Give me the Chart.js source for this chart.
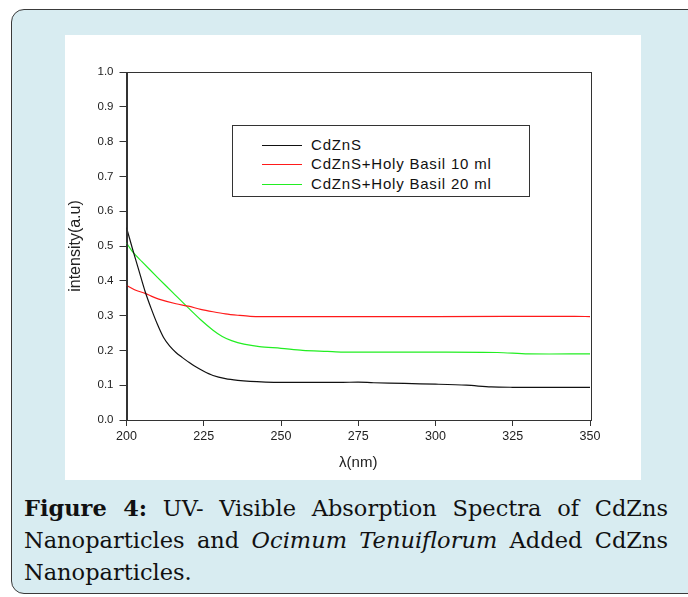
<!DOCTYPE html>
<html>
<head>
<meta charset="utf-8">
<script src="https://cdn.jsdelivr.net/npm/chart.js@4/dist/chart.umd.min.js"></script>
<style>
  html, body { margin:0; padding:0; background:#ffffff; }
  body { width:688px; height:597px; position:relative; overflow:hidden; }
  #frame { position:absolute; left:11px; top:9px; width:700px; height:585px;
           background:#d8ecf1; border:1.5px solid #3a3a3a; border-radius:13px; box-sizing:border-box; }
  #panel { position:absolute; left:65px; top:35px; width:576px; height:445px; background:#ffffff; }
  #panel canvas { position:absolute; left:0; top:0; }
  #legend { position:absolute; left:232px; top:125px; width:298px; height:72px; box-sizing:border-box;
            border:1.3px solid #333; background:#fff; font-family:"Liberation Sans", Arial, sans-serif; font-size:15px; color:#111; }
  .li { position:absolute; left:0; height:16px; width:100%; }
  .li .sw { position:absolute; left:29px; top:8px; width:40px; height:1px; }
  .li .tx { position:absolute; left:78px; top:-1px; line-height:18px; white-space:nowrap; letter-spacing:0.8px; }
  #caption { position:absolute; left:24px; top:492px; width:644px; font-family:"DejaVu Serif", serif;
             font-size:22.5px; line-height:32px; color:#111; }
  #caption .ln { text-align:justify; text-align-last:justify; white-space:nowrap; }
  #caption .ln.last { text-align-last:left; }
</style>
</head>
<body>
<div id="frame"></div>
<div id="panel"><canvas id="c" width="576" height="445"></canvas></div>
<div id="legend"></div>
<div id="caption">
  <div class="ln"><b>Figure 4:</b> UV- Visible Absorption Spectra of CdZns</div>
  <div class="ln">Nanoparticles and <i>Ocimum Tenuiflorum</i> Added CdZns</div>
  <div class="ln last">Nanoparticles.</div>
</div>
<script>
// ---- data ----
const seriesLabels = ["CdZnS", "CdZnS+Holy Basil 10 ml", "CdZnS+Holy Basil 20 ml"];
const seriesColors = ["#111111", "#ff1a1a", "#22ee22"];

const wlBlack  = [200, 202, 204, 206, 208, 210, 212, 214, 216, 218, 220, 222, 225, 228, 232, 236, 240, 245, 250, 260, 270, 275, 280, 290, 300, 310, 318, 325, 335, 350];
const valBlack = [0.553, 0.49, 0.43, 0.37, 0.32, 0.275, 0.237, 0.212, 0.194, 0.18, 0.167, 0.155, 0.14, 0.128, 0.119, 0.114, 0.111, 0.109, 0.108, 0.108, 0.108, 0.109, 0.107, 0.105, 0.103, 0.1, 0.095, 0.094, 0.094, 0.094];

const wlRed  = [200, 203, 206, 208, 211, 216, 220, 224, 228, 232, 236, 240, 250, 300, 345, 350];
const valRed = [0.387, 0.373, 0.364, 0.356, 0.346, 0.334, 0.327, 0.318, 0.311, 0.305, 0.301, 0.298, 0.297, 0.297, 0.298, 0.297];

const wlGreen  = [200, 202, 205, 210, 215, 220, 224, 228, 231, 234, 238, 243, 250, 257, 265, 270, 300, 320, 330, 350];
const valGreen = [0.509, 0.483, 0.455, 0.41, 0.366, 0.322, 0.288, 0.258, 0.24, 0.228, 0.218, 0.211, 0.206, 0.2, 0.197, 0.195, 0.195, 0.194, 0.19, 0.19];

const xTicks = [200, 225, 250, 275, 300, 325, 350];
const yTicks = [0.0, 0.1, 0.2, 0.3, 0.4, 0.5, 0.6, 0.7, 0.8, 0.9, 1.0];

function pts(xs, ys) { return xs.map((x, i) => ({ x: x, y: ys[i] })); }

const datasets = [
  { label: seriesLabels[0], data: pts(wlBlack, valBlack), borderColor: seriesColors[0] },
  { label: seriesLabels[1], data: pts(wlRed, valRed), borderColor: seriesColors[1] },
  { label: seriesLabels[2], data: pts(wlGreen, valGreen), borderColor: seriesColors[2] }
].map(d => Object.assign(d, { borderWidth: 1.2, pointRadius: 0, tension: 0.3, fill: false }));

const framePlugin = {
  id: 'frameBox',
  afterDatasetsDraw(chart) {
    const a = chart.chartArea, ctx = chart.ctx;
    ctx.save();
    ctx.strokeStyle = '#333';
    ctx.lineWidth = 1;
    ctx.strokeRect(Math.round(a.left) + 0.5, Math.round(a.top) + 0.5, Math.round(a.right - a.left), Math.round(a.bottom - a.top));
    ctx.restore();
  }
};

const fam = "'Liberation Sans', Arial, sans-serif";

new Chart(document.getElementById('c'), {
  type: 'line',
  data: { datasets },
  options: {
    responsive: false,
    animation: false,
    devicePixelRatio: 1,
    layout: { padding: { top: 37, right: 51, left: 0, bottom: 0 } },
    plugins: { legend: { display: false }, tooltip: { enabled: false } },
    scales: {
      x: {
        type: 'linear', min: 200, max: 350,
        afterBuildTicks: s => { s.ticks = xTicks.map(v => ({ value: v })); },
        afterFit: s => { s.height = 60; },
        ticks: { color: '#222', font: { family: fam, size: 12.5 }, padding: 3, maxRotation: 0 },
        grid: { display: true, drawOnChartArea: false, tickLength: 6, color: '#333', tickColor: '#333' },
        border: { display: true, color: '#333' },
        title: { display: true, text: 'λ(nm)', color: '#222', font: { family: fam, size: 15 }, padding: { top: 0, bottom: 8 } }
      },
      y: {
        type: 'linear', min: 0, max: 1.0,
        afterBuildTicks: s => { s.ticks = yTicks.map(v => ({ value: v })); },
        afterFit: s => { s.width = 61.5; },
        ticks: { color: '#222', font: { family: fam, size: 11.5 }, padding: 6, callback: v => v.toFixed(1) },
        grid: { display: true, drawOnChartArea: false, tickLength: 7, color: '#333', tickColor: '#333' },
        border: { display: true, color: '#333' },
        title: { display: true, text: 'intensity(a.u)', color: '#222', font: { family: fam, size: 16 }, padding: { top: 1, bottom: 0 } }
      }
    }
  },
  plugins: [framePlugin]
});

// HTML legend built from the dataset labels/colors
const lg = document.getElementById('legend');
const rowTops = [11, 30, 50];
seriesLabels.forEach((lab, i) => {
  const row = document.createElement('div');
  row.className = 'li';
  row.style.top = rowTops[i] + 'px';
  const sw = document.createElement('div');
  sw.className = 'sw';
  sw.style.background = seriesColors[i];
  const tx = document.createElement('div');
  tx.className = 'tx';
  tx.textContent = lab;
  row.appendChild(sw);
  row.appendChild(tx);
  lg.appendChild(row);
});
</script>
</body>
</html>
